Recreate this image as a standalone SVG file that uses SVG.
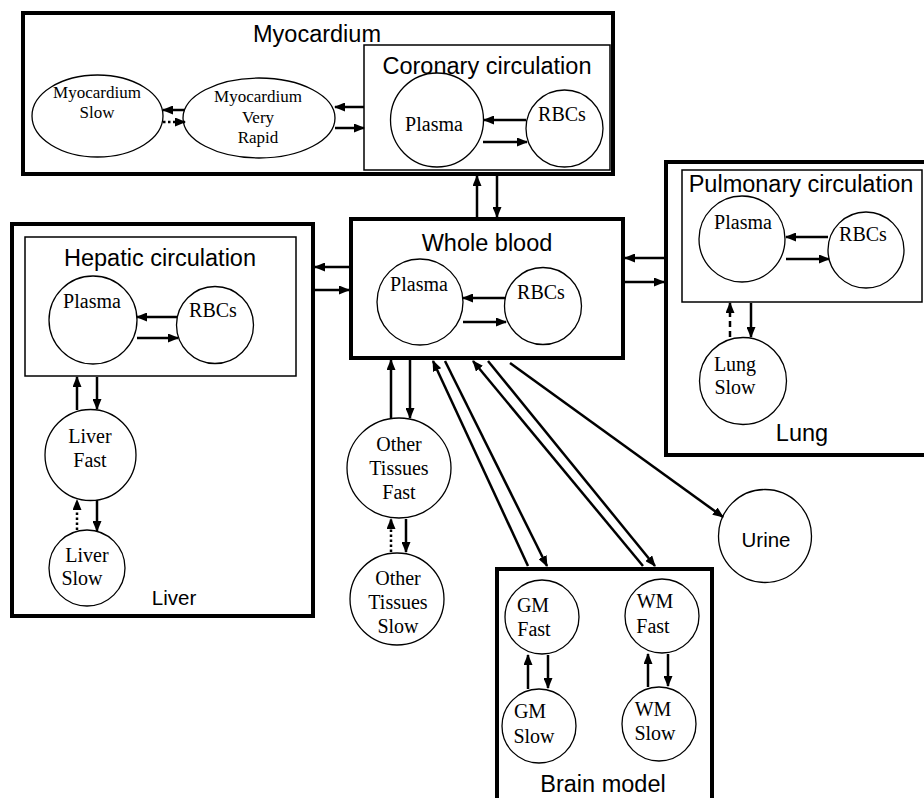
<svg xmlns="http://www.w3.org/2000/svg" width="924" height="798" viewBox="0 0 924 798">
<style>
.thick{fill:none;stroke:#000;stroke-width:4}
.thin{fill:none;stroke:#000;stroke-width:1.5}
.node{fill:#fff;stroke:#000;stroke-width:1.3}
.lbl{font-family:"Liberation Sans",Arial,sans-serif;font-size:23.5px;text-anchor:middle;fill:#000}
.sm{font-family:"Liberation Sans",Arial,sans-serif;font-size:20.5px;text-anchor:middle;fill:#000}
.t{font-family:"Liberation Serif","Times New Roman",serif;font-size:20px;text-anchor:middle;fill:#000}
.t17{font-family:"Liberation Serif","Times New Roman",serif;font-size:17px;text-anchor:middle;fill:#000}
.a{stroke:#000;stroke-width:2.5;fill:none;marker-end:url(#ah)}
.dot{stroke-dasharray:2.5 2.5}
.dash{stroke-dasharray:6 4}
</style>
<defs>
<marker id="ah" markerUnits="userSpaceOnUse" markerWidth="11" markerHeight="9" refX="10" refY="4.5" orient="auto">
<path d="M0,0 L11,4.5 L0,9 z" fill="#000"/>
</marker>
</defs>
<rect width="924" height="798" fill="#fff"/>

<g id="myocardium">
<rect class="thick" x="23" y="13" width="590" height="161"/>
<text class="lbl" x="317" y="42">Myocardium</text>
</g>
<g id="myo-slow">
<ellipse class="node" cx="97.5" cy="116" rx="65.5" ry="41"/>
<text class="t17" x="97" y="98">Myocardium</text>
<text class="t17" x="97" y="118">Slow</text>
</g>
<g id="myo-very-rapid">
<ellipse class="node" cx="259" cy="118" rx="76" ry="40"/>
<text class="t17" x="258" y="102">Myocardium</text>
<text class="t17" x="258" y="123">Very</text>
<text class="t17" x="258" y="143">Rapid</text>
</g>
<g id="coronary">
<rect class="thin" x="364" y="45" width="246" height="125"/>
<text class="lbl" x="487" y="74">Coronary circulation</text>
</g>
<g id="cor-plasma">
<ellipse class="node" cx="437" cy="120" rx="46.5" ry="47"/>
<text class="t" x="434" y="131">Plasma</text>
</g>
<g id="cor-rbcs">
<circle class="node" cx="564.5" cy="128.5" r="38.5"/>
<text class="t" x="562" y="121">RBCs</text>
</g>

<g id="whole-blood">
<rect class="thick" x="351" y="219" width="272" height="139"/>
<text class="lbl" x="487" y="251">Whole blood</text>
</g>
<g id="wb-plasma">
<circle class="node" cx="420" cy="302" r="43"/>
<text class="t" x="419" y="291">Plasma</text>
</g>
<g id="wb-rbcs">
<circle class="node" cx="543" cy="306" r="38.5"/>
<text class="t" x="541" y="299">RBCs</text>
</g>

<g id="liver">
<rect class="thick" x="12" y="224" width="301" height="392"/>
<text class="sm" x="174" y="605">Liver</text>
</g>
<g id="hepatic">
<rect class="thin" x="25" y="237" width="271" height="139"/>
<text class="lbl" x="160" y="266">Hepatic circulation</text>
</g>
<g id="hep-plasma">
<circle class="node" cx="93" cy="320" r="44"/>
<text class="t" x="92" y="308">Plasma</text>
</g>
<g id="hep-rbcs">
<circle class="node" cx="215" cy="325" r="38.5"/>
<text class="t" x="213" y="317">RBCs</text>
</g>
<g id="liver-fast">
<circle class="node" cx="90.5" cy="455" r="45.5"/>
<text class="t" x="90" y="443">Liver</text>
<text class="t" x="90" y="467">Fast</text>
</g>
<g id="liver-slow">
<circle class="node" cx="87" cy="568" r="38"/>
<text class="t" x="87" y="562">Liver</text>
<text class="t" x="82" y="585">Slow</text>
</g>

<g id="lung">
<rect class="thick" x="666" y="162" width="264" height="293"/>
<text class="lbl" x="802" y="441">Lung</text>
</g>
<g id="pulmonary">
<rect class="thin" x="682" y="170" width="240" height="132"/>
<text class="lbl" x="801" y="192">Pulmonary circulation</text>
</g>
<g id="pul-plasma">
<circle class="node" cx="742" cy="239" r="43"/>
<text class="t" x="743" y="229">Plasma</text>
</g>
<g id="pul-rbcs">
<circle class="node" cx="866" cy="250" r="38"/>
<text class="t" x="863" y="241">RBCs</text>
</g>
<g id="lung-slow">
<circle class="node" cx="743" cy="381" r="43.5"/>
<text class="t" x="735" y="371">Lung</text>
<text class="t" x="735" y="394">Slow</text>
</g>

<g id="other-fast">
<ellipse class="node" cx="399" cy="468" rx="52" ry="50"/>
<text class="t" x="399" y="451">Other</text>
<text class="t" x="399" y="475">Tissues</text>
<text class="t" x="399" y="499">Fast</text>
</g>
<g id="other-slow">
<ellipse class="node" cx="397" cy="599" rx="47" ry="46"/>
<text class="t" x="398" y="585">Other</text>
<text class="t" x="398" y="609">Tissues</text>
<text class="t" x="398" y="633">Slow</text>
</g>

<g id="urine">
<circle class="node" cx="765" cy="536" r="46.5"/>
<text class="sm" x="766" y="547">Urine</text>
</g>

<g id="brain">
<rect class="thick" x="497" y="569" width="215" height="240"/>
<text class="lbl" x="603" y="792">Brain model</text>
</g>
<g id="gm-fast">
<circle class="node" cx="542" cy="617" r="37"/>
<text class="t" x="533" y="612">GM</text>
<text class="t" x="534" y="636">Fast</text>
</g>
<g id="gm-slow">
<circle class="node" cx="539" cy="726" r="37"/>
<text class="t" x="530" y="718">GM</text>
<text class="t" x="534" y="743">Slow</text>
</g>
<g id="wm-fast">
<circle class="node" cx="662" cy="616" r="37"/>
<text class="t" x="655" y="608">WM</text>
<text class="t" x="653" y="633">Fast</text>
</g>
<g id="wm-slow">
<circle class="node" cx="659" cy="724" r="37"/>
<text class="t" x="653" y="716">WM</text>
<text class="t" x="655" y="740">Slow</text>
</g>

<g id="connectors">
<!-- myocardium internal -->
<line class="a" x1="185" y1="110" x2="163" y2="110"/>
<line class="a dot" x1="163" y1="122" x2="185" y2="122"/>
<line class="a" x1="364" y1="107" x2="335" y2="107"/>
<line class="a" x1="335" y1="128" x2="364" y2="128"/>
<line class="a" x1="526" y1="120" x2="484" y2="120"/>
<line class="a" x1="483" y1="142" x2="527" y2="142"/>
<!-- myocardium - whole blood -->
<line class="a" x1="477" y1="217" x2="477" y2="176"/>
<line class="a" x1="497" y1="176" x2="497" y2="217"/>
<!-- whole blood internal -->
<line class="a" x1="505" y1="298" x2="463" y2="298"/>
<line class="a" x1="463" y1="322" x2="506" y2="322"/>
<!-- liver - whole blood -->
<line class="a" x1="349" y1="267" x2="315" y2="267"/>
<line class="a" x1="315" y1="290" x2="349" y2="290"/>
<!-- hepatic -->
<line class="a" x1="177" y1="317" x2="137" y2="317"/>
<line class="a" x1="137" y1="338" x2="178" y2="338"/>
<line class="a" x1="77" y1="410" x2="77" y2="377"/>
<line class="a" x1="97" y1="377" x2="97" y2="409"/>
<line class="a dot" x1="77" y1="530" x2="77" y2="500"/>
<line class="a" x1="97" y1="500" x2="97" y2="531"/>
<!-- lung -->
<line class="a" x1="664" y1="258" x2="625" y2="258"/>
<line class="a" x1="625" y1="282" x2="664" y2="282"/>
<line class="a" x1="828" y1="237" x2="786" y2="237"/>
<line class="a" x1="786" y1="259" x2="829" y2="259"/>
<line class="a dash" x1="730" y1="337" x2="730" y2="303"/>
<line class="a" x1="751" y1="303" x2="751" y2="337"/>
<!-- other tissues -->
<line class="a" x1="391" y1="418" x2="391" y2="360"/>
<line class="a" x1="410" y1="360" x2="410" y2="418"/>
<line class="a dot" x1="391" y1="552" x2="391" y2="519"/>
<line class="a" x1="406" y1="519" x2="406" y2="552"/>
<!-- brain -->
<line class="a" x1="528" y1="566" x2="433" y2="361"/>
<line class="a" x1="445" y1="361" x2="547" y2="566"/>
<line class="a" x1="643" y1="566" x2="473" y2="361"/>
<line class="a" x1="488" y1="361" x2="655" y2="566"/>
<line class="a" x1="528" y1="689" x2="528" y2="655"/>
<line class="a" x1="548" y1="655" x2="548" y2="688"/>
<line class="a" x1="648" y1="687" x2="648" y2="654"/>
<line class="a" x1="668" y1="654" x2="668" y2="686"/>
<!-- urine -->
<line class="a" x1="510" y1="363" x2="723" y2="517"/>
</g>
</svg>
